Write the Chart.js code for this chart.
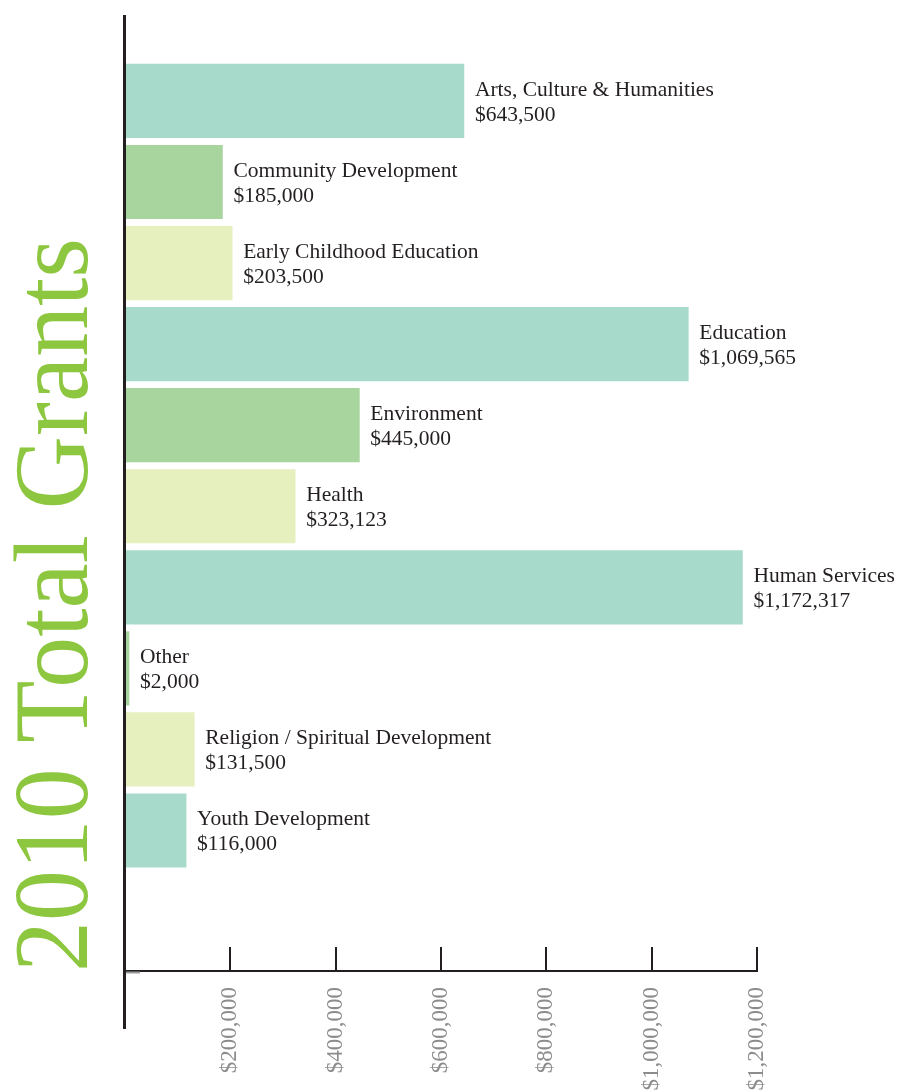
<!DOCTYPE html>
<html><head><meta charset="utf-8">
<script src="https://cdn.jsdelivr.net/npm/chart.js@4.4.1/dist/chart.umd.min.js"></script>
<style>html,body{margin:0;padding:0;background:#fff;overflow:hidden;} canvas{display:block;}</style>
</head><body>
<canvas id="c" width="899" height="1091"></canvas>
<script>
const categories = ['Arts, Culture & Humanities','Community Development','Early Childhood Education','Education','Environment','Health','Human Services','Other','Religion / Spiritual Development','Youth Development'];
const values = [643500,185000,203500,1069565,445000,323123,1172317,2000,131500,116000];
const barColors = ['#a8dacb','#a8d49e','#e6f0bf','#a8dacb','#a8d49e','#e6f0bf','#a8dacb','#a8d49e','#e6f0bf','#a8dacb'];
const tickValues = [200000,400000,600000,800000,1000000,1200000];
const titleText = '2010 Total Grants';

const fmt = v => '$' + Number(v).toLocaleString('en-US');

const decor = {
  id: 'decor',
  afterDatasetsDraw(chart) {
    const ctx = chart.ctx, ca = chart.chartArea, xs = chart.scales.x;
    ctx.save();
    // tick marks pointing up into the plot
    ctx.strokeStyle = '#231f20'; ctx.lineWidth = 2;
    tickValues.forEach(v => {
      const x = Math.round(xs.getPixelForValue(v));
      ctx.beginPath(); ctx.moveTo(x, ca.bottom - 24); ctx.lineTo(x, ca.bottom + 1); ctx.stroke();
    });
    // small grey stub
    ctx.strokeStyle = '#9a9a9a'; ctx.lineWidth = 2;
    ctx.beginPath(); ctx.moveTo(ca.left, ca.bottom + 1.5); ctx.lineTo(ca.left + 15, ca.bottom + 1.5); ctx.stroke();
    // vertical axis
    ctx.strokeStyle = '#231f20'; ctx.lineWidth = 3;
    ctx.beginPath(); ctx.moveTo(ca.left - 0.5, ca.top); ctx.lineTo(ca.left - 0.5, ca.bottom + 58); ctx.stroke();
    // bar labels
    const meta = chart.getDatasetMeta(0);
    ctx.fillStyle = '#231f20';
    ctx.font = '21.5px "Liberation Serif"';
    ctx.textAlign = 'left'; ctx.textBaseline = 'middle';
    meta.data.forEach((bar, i) => {
      const x = bar.x + 11;
      ctx.fillText(categories[i], x, bar.y - 11);
      ctx.fillText(fmt(values[i]), x, bar.y + 14);
    });
    // vertical title
    ctx.fillStyle = '#8dc63f';
    ctx.font = '106px "Liberation Serif"';
    ctx.textAlign = 'center'; ctx.textBaseline = 'alphabetic';
    const w = ctx.measureText(titleText).width;
    ctx.translate(87, 605);
    ctx.rotate(-Math.PI / 2);
    ctx.scale(734 / w, 1);
    ctx.fillText(titleText, 0, 0);
    ctx.restore();
  }
};

new Chart(document.getElementById('c'), {
  type: 'bar',
  data: {
    datasets: [{
      data: categories.map((c, i) => ({ x: values[i], y: i })),
      backgroundColor: barColors,
      borderWidth: 0,
      barThickness: 73.5,
      minBarLength: 4
    }]
  },
  options: {
    indexAxis: 'y',
    responsive: false,
    devicePixelRatio: 1,
    animation: false,
    layout: { padding: { top: 15, right: 142, left: 0, bottom: 0 } },
    plugins: { legend: { display: false }, tooltip: { enabled: false }, title: { display: false } },
    scales: {
      x: {
        type: 'linear', min: 0, max: 1200000,
        afterBuildTicks: s => { s.ticks = tickValues.map(v => ({ value: v })); },
        afterFit: s => { s.height = 120; },
        grid: { display: false, drawTicks: false },
        border: { display: true, color: '#231f20', width: 2 },
        ticks: {
          callback: v => fmt(v),
          minRotation: 90, maxRotation: 90,
          padding: 16,
          color: '#8c8c8c',
          font: { family: '"Liberation Serif"', size: 23 }
        }
      },
      y: {
        type: 'linear', reverse: true, min: -1.06, max: 10.733, offset: false,
        afterBuildTicks: s => { s.ticks = categories.map((c, i) => ({ value: i })); },
        afterFit: s => { s.width = 125; },
        grid: { display: false, drawTicks: false, offset: false },
        border: { display: false },
        ticks: { display: false }
      }
    }
  },
  plugins: [decor]
});
</script>
</body></html>
